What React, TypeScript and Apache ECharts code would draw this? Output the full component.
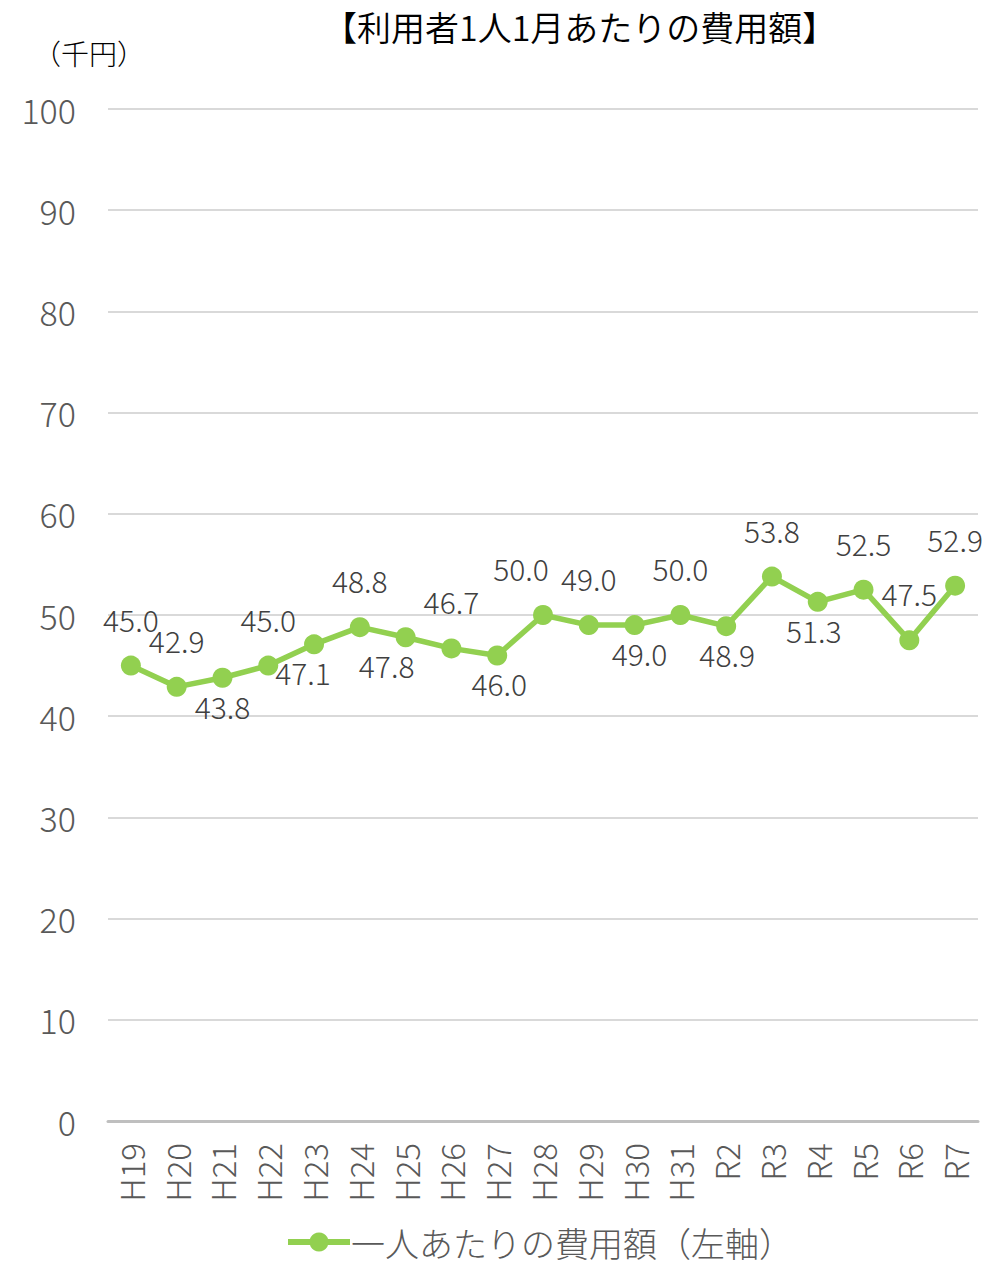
import React, { useEffect, useRef } from "react";
import * as echarts from "echarts";

const categories = ["H19","H20","H21","H22","H23","H24","H25","H26","H27","H28","H29","H30","H31","R2","R3","R4","R5","R6","R7"];
const values = [45.0,42.9,43.8,45.0,47.1,48.8,47.8,46.7,46.0,50.0,49.0,49.0,50.0,48.9,53.8,51.3,52.5,47.5,52.9];
const labelSide = ["top","top","bottom","top","bottom","top","bottom","top","bottom","top","top","bottom","top","bottom","top","bottom","top","top","top"];
const labelShiftX = [0,0,0,0,-11,0,-19,0,2,-22,0,5,0,1,0,-4,0,0,0];
const yTicks = [0, 100, 10];
const seriesName = "一人あたりの費用額（左軸）";
const titleText = "【利用者1人1月あたりの費用額】";
const unitText = "（千円）";

const FONT = "'Noto Sans CJK JP', 'Noto Sans', sans-serif";

export default function App() {
  const ref = useRef<HTMLDivElement>(null);
  useEffect(() => {
    const chart = echarts.init(ref.current!, null, { renderer: "svg" });
    chart.setOption({
      animation: false,
      textStyle: { fontFamily: FONT },
      title: {
        text: titleText,
        left: 318,
        top: 4,
        textStyle: { fontFamily: FONT, fontSize: 34, fontWeight: 350, color: "#000" },
      },
      graphic: [
        {
          type: "text",
          left: 33,
          top: 39,
          style: { text: unitText, font: `300 28px ${FONT}`, fill: "#000" },
        },
      ],
      grid: { left: 108, right: 24, top: 109, bottom: 145, containLabel: false },
      legend: {
        bottom: 2,
        left: 280,
        itemWidth: 62,
        itemHeight: 24,
        itemGap: 4,
        lineStyle: { width: 6 },
        textStyle: { fontFamily: FONT, fontSize: 34, fontWeight: 300, color: "#595959", padding: [0, 0, 0, -4] },
        data: [seriesName],
      },
      xAxis: {
        type: "category",
        data: categories,
        boundaryGap: true,
        axisLine: { lineStyle: { color: "#bfbfbf", width: 3 } },
        axisTick: { show: false },
        axisLabel: { rotate: 90, fontSize: 33, fontWeight: 300, color: "#595959", fontFamily: FONT, margin: 22, interval: 0 },
      },
      yAxis: {
        type: "value",
        min: yTicks[0],
        max: yTicks[1],
        interval: yTicks[2],
        axisLine: { show: false },
        axisTick: { show: false },
        axisLabel: { fontSize: 34, fontWeight: 300, color: "#595959", fontFamily: FONT, margin: 32 },
        splitLine: { lineStyle: { color: "#d9d9d9", width: 2 } },
      },
      series: [
        {
          name: seriesName,
          type: "line",
          data: values.map((v, i) => ({
            value: v,
            label: {
              position: labelSide[i],
              offset: [labelShiftX[i], 0],
              distance: labelSide[i] === "top" ? 22 : 3,
            },
          })),
          symbol: "circle",
          symbolSize: 20,
          lineStyle: { color: "#92D050", width: 5.5 },
          itemStyle: { color: "#92D050" },
          label: {
            show: true,
            fontSize: 30,
            fontWeight: 300,
            color: "#404040",
            fontFamily: FONT,
            formatter: (p: any) => Number(p.value).toFixed(1),
          },
        },
      ],
    });
    return () => chart.dispose();
  }, []);
  return <div ref={ref} style={{ width: 1002, height: 1266, position: "absolute", left: 0, top: 0 }} />;
}
